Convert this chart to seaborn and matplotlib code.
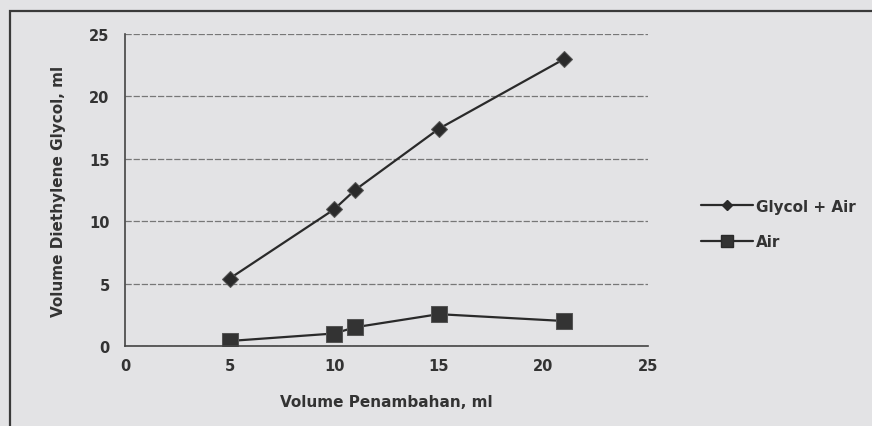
import pandas as pd
import matplotlib.pyplot as plt
from matplotlib.patches import Rectangle
from matplotlib.lines import Line2D
import seaborn as sns

# data
penambahan = [5, 10, 11, 15, 21]
glycol_air = [5.4, 10.95, 12.5, 17.4, 23.0]
air = [0.4, 1.0, 1.5, 2.55, 2.0]
x_ticks = [0, 5, 10, 15, 20, 25]
y_ticks = [0, 5, 10, 15, 20, 25]

df = pd.DataFrame({'Penambahan': penambahan, 'Glycol + Air': glycol_air, 'Air': air})

sns.set_style('white')
plt.rcParams['font.family'] = ['DejaVu Sans']

bg = '#e3e3e5'
ink = '#2a2a2a'

fig = plt.figure(figsize=(8.72, 4.27), dpi=100, facecolor=bg)
ax = fig.add_axes([0.1433, 0.1874, 0.5997, 0.7306])
ax.set_facecolor(bg)

# outer chart frame
fig.patches.append(Rectangle((0.0115, -0.05), 1.05, 0.022 + 1.0, transform=fig.transFigure,
                             fill=False, edgecolor='#3a3a3a', linewidth=1.6))

sns.lineplot(x='Penambahan', y='Glycol + Air', data=df, ax=ax, color=ink, linewidth=1.6,
             marker='D', markersize=8, markerfacecolor=ink, markeredgecolor='#555555')
sns.lineplot(x='Penambahan', y='Air', data=df, ax=ax, color=ink, linewidth=1.6,
             marker='s', markersize=11, markerfacecolor='#333333', markeredgecolor='#555555')

ax.set_xlim(0, 25)
ax.set_ylim(0, 25)
ax.set_xticks(x_ticks)
ax.set_yticks(y_ticks)
ax.yaxis.grid(True, color='#777777', linestyle=(0, (5, 1.5)), linewidth=0.9)
ax.set_axisbelow(True)
for s in ['top', 'right']:
    ax.spines[s].set_visible(False)
for s in ['left', 'bottom']:
    ax.spines[s].set_color('#444444')
    ax.spines[s].set_linewidth(1.2)
ax.tick_params(axis='both', direction='out', length=4, width=1, color='#444444',
               labelsize=10.5, labelcolor='#333333')
for lbl in ax.get_xticklabels() + ax.get_yticklabels():
    lbl.set_fontweight('bold')
ax.tick_params(axis='x', pad=5)
ax.tick_params(axis='y', pad=7)

ax.set_xlabel('Volume Penambahan, ml', fontsize=11, fontweight='bold', color='#333333', labelpad=15)
ax.set_ylabel('Volume Diethylene Glycol, ml', fontsize=11, fontweight='bold', color='#333333', labelpad=17)

handles = [
    Line2D([], [], color=ink, linewidth=1.6, marker='D', markersize=5, markerfacecolor=ink),
    Line2D([], [], color=ink, linewidth=1.6, marker='s', markersize=8, markerfacecolor='#333333'),
]
leg = fig.legend(handles, ['Glycol + Air', 'Air'], loc='center left', bbox_to_anchor=(0.788, 0.473),
                 frameon=False, handlelength=3.4, handletextpad=0.2, labelspacing=1.36,
                 prop={'size': 11, 'weight': 'bold'})
for t in leg.get_texts():
    t.set_color('#333333')

fig.savefig('out.png', dpi=100, facecolor=bg)
